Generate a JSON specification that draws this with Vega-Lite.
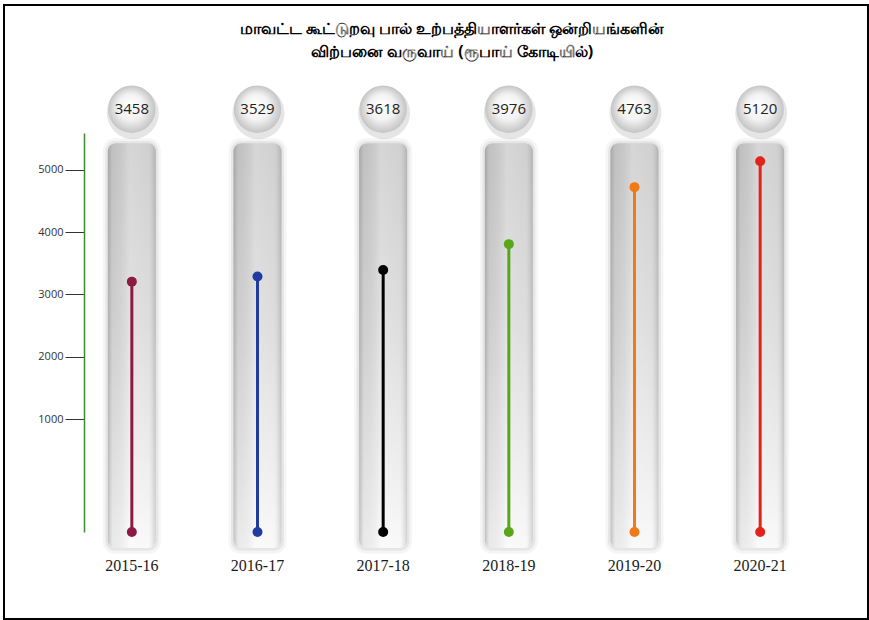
{
  "$schema": "https://vega.github.io/schema/vega-lite/v6.json",
  "width": 864,
  "height": 614,
  "autosize": "none",
  "padding": {"left": 4, "top": 5, "right": 1, "bottom": 1},
  "background": "#ffffff",
  "config": {"view": {"stroke": "#000000", "strokeWidth": 2}},
  "title": {
    "text": ["மாவட்ட கூட்டுறவு பால் உற்பத்தியாளர்கள் ஒன்றியங்களின்", "விற்பனை வருவாய்  (ரூபாய் கோடியில்)"],
    "font": "Noto Sans",
    "fontSize": 16,
    "fontWeight": "bold",
    "color": "#000000",
    "anchor": "middle",
    "dx": 16,
    "offset": -55,
    "lineHeight": 23
  },
  "data": {
    "values": [
      {"year": "2015-16", "value": 3458},
      {"year": "2016-17", "value": 3529},
      {"year": "2017-18", "value": 3618},
      {"year": "2018-19", "value": 3976},
      {"year": "2019-20", "value": 4763},
      {"year": "2020-21", "value": 5120}
    ]
  },
  "resolve": {"scale": {"y": "independent"}},
  "layer": [
    {
      "mark": {"type": "rule", "opacity": 0},
      "encoding": {
        "y": {
          "datum": 1000,
          "type": "quantitative",
          "scale": {"domain": [-815, 5594], "range": [527, 128], "nice": false, "zero": false},
          "axis": {
            "orient": "left",
            "offset": -80,
            "values": [1000, 2000, 3000, 4000, 5000],
            "format": "d",
            "title": null,
            "grid": false,
            "domainColor": "#3c8c2c",
            "domainWidth": 1.5,
            "tickColor": "#333333",
            "tickSize": 19,
            "tickWidth": 1,
            "labelPadding": 2,
            "labelFont": "Open Sans",
            "labelFontSize": 11,
            "labelColor": "#333333"
          }
        }
      }
    },
    {
      "encoding": {
        "x": {
          "field": "year",
          "type": "nominal",
          "sort": null,
          "scale": {"range": [65, 819], "paddingInner": 0, "paddingOuter": 0},
          "axis": {
            "orient": "bottom",
            "offset": -62,
            "title": null,
            "domain": false,
            "ticks": false,
            "grid": false,
            "labelAngle": 0,
            "labelPadding": 0,
            "labelFont": "Liberation Serif",
            "labelFontSize": 16,
            "labelColor": "#1a1a1a"
          }
        }
      },
      "layer": [
        {
          "mark": {"type": "bar", "width": 58, "cornerRadius": 12, "color": "#000000", "opacity": 0.04},
          "encoding": {
            "y": {"datum": 5440, "type": "quantitative", "scale": {"domain": [0, 5511], "range": [527, 128], "nice": false, "zero": false}, "axis": null},
            "y2": {"datum": -300}
          }
        },
        {
          "mark": {"type": "bar", "width": 53, "cornerRadius": 10, "color": "#000000", "opacity": 0.06},
          "encoding": {
            "y": {"datum": 5400, "type": "quantitative", "axis": null},
            "y2": {"datum": -260}
          }
        },
        {
          "mark": {
            "type": "bar",
            "width": 48,
            "cornerRadius": 8,
            "color": {
              "gradient": "linear",
              "x1": 0, "y1": 0, "x2": 0, "y2": 1,
              "stops": [
                {"offset": 0, "color": "#c8c8c8"},
                {"offset": 0.45, "color": "#d8d8d8"},
                {"offset": 0.85, "color": "#eeeeee"},
                {"offset": 1, "color": "#f8f8f8"}
              ]
            }
          },
          "encoding": {
            "y": {"datum": 5370, "type": "quantitative", "axis": null},
            "y2": {"datum": -220}
          }
        },
        {
          "mark": {
            "type": "bar",
            "width": 48,
            "cornerRadius": 8,
            "color": {
              "gradient": "linear",
              "x1": 0, "y1": 0, "x2": 1, "y2": 0,
              "stops": [
                {"offset": 0, "color": "rgba(110,110,110,0.4)"},
                {"offset": 0.1, "color": "rgba(140,140,140,0.12)"},
                {"offset": 0.45, "color": "rgba(255,255,255,0.25)"},
                {"offset": 0.85, "color": "rgba(255,255,255,0.15)"},
                {"offset": 1, "color": "rgba(120,120,120,0.3)"}
              ]
            }
          },
          "encoding": {
            "y": {"datum": 5370, "type": "quantitative", "axis": null},
            "y2": {"datum": -220}
          }
        },
        {
          "mark": {"type": "point", "filled": true, "size": 2700, "color": "#000000", "opacity": 0.1, "yOffset": 4, "xOffset": 1},
          "encoding": {"y": {"datum": 5840, "type": "quantitative", "axis": null}}
        },
        {
          "mark": {
            "type": "point",
            "filled": true,
            "size": 2250,
            "opacity": 1,
            "color": {
              "gradient": "radial",
              "x1": 0.45, "y1": 0.4, "r1": 0,
              "x2": 0.5, "y2": 0.5, "r2": 0.5,
              "stops": [
                {"offset": 0, "color": "#ffffff"},
                {"offset": 0.55, "color": "#f2f2f2"},
                {"offset": 1, "color": "#c4c4c4"}
              ]
            }
          },
          "encoding": {"y": {"datum": 5840, "type": "quantitative", "axis": null}}
        },
        {
          "mark": {"type": "text", "font": "Open Sans", "fontSize": 15, "color": "#222222", "baseline": "middle", "align": "center"},
          "encoding": {
            "y": {"datum": 5840, "type": "quantitative", "axis": null},
            "text": {"field": "value", "type": "quantitative", "format": "d"}
          }
        },
        {
          "mark": {"type": "rule", "strokeWidth": 3},
          "encoding": {
            "y": {"field": "value", "type": "quantitative", "axis": null},
            "y2": {"datum": 0},
            "color": {
              "field": "year",
              "type": "nominal",
              "scale": {
                "domain": ["2015-16", "2016-17", "2017-18", "2018-19", "2019-20", "2020-21"],
                "range": ["#8c1a42", "#1f3c9e", "#000000", "#5aa61a", "#f07a16", "#e2231a"]
              },
              "legend": null
            }
          }
        },
        {
          "mark": {"type": "point", "filled": true, "size": 100, "opacity": 1},
          "encoding": {
            "y": {"field": "value", "type": "quantitative", "axis": null},
            "color": {"field": "year", "type": "nominal", "legend": null}
          }
        },
        {
          "mark": {"type": "point", "filled": true, "size": 100, "opacity": 1},
          "encoding": {
            "y": {"datum": 0, "type": "quantitative", "axis": null},
            "color": {"field": "year", "type": "nominal", "legend": null}
          }
        }
      ]
    }
  ]
}
